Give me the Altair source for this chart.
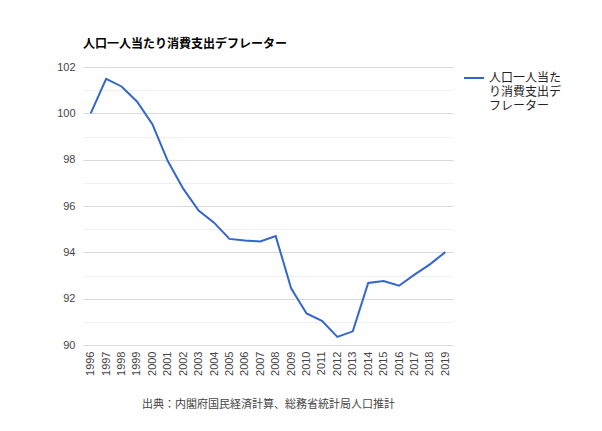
import altair as alt
import pandas as pd

years = [str(y) for y in range(1996, 2020)]
values = [100.0, 101.49, 101.16, 100.51, 99.53, 97.94, 96.75, 95.80, 95.28, 94.58,
          94.51, 94.47, 94.70, 92.45, 91.36, 91.04, 90.35, 90.59, 92.68, 92.76,
          92.56, 93.04, 93.48, 94.01]
series_name = "人口一人当たり消費支出デフレーター"
title_text = "人口一人当たり消費支出デフレーター"
source_text = "出典：内閣府国民経済計算、総務省統計局人口推計"
y_ticks = list(range(90, 103))

df = pd.DataFrame({"year": years, "value": values, "series": series_name})

FONT = "Arial, 'Liberation Sans', 'Noto Sans CJK JP', sans-serif"

chart = alt.Chart(df).mark_line(strokeWidth=2, color="#3366CC").encode(
    x=alt.X("year:O", scale=alt.Scale(type="point", padding=0.5),
            axis=alt.Axis(title=source_text, labelAngle=-90, labelFontSize=11,
                          labelColor="#444444", titleFontSize=11, titleFontWeight="normal",
                          titleColor="#444444", titlePadding=23, domain=False, ticks=False,
                          grid=False, labelPadding=6)),
    y=alt.Y("value:Q", scale=alt.Scale(domain=[90, 102], nice=False, zero=False),
            axis=alt.Axis(title=None, values=y_ticks,
                          labelExpr="datum.value % 2 == 0 ? datum.label : ''",
                          gridColor=alt.condition("datum.value % 2 == 0", alt.value("#d9d9d9"), alt.value("#f0f0f0")),
                          labelFontSize=11, labelColor="#444444", domain=False, ticks=False,
                          labelPadding=8)),
    color=alt.Color("series:N", scale=alt.Scale(range=["#3366CC"]),
                    legend=alt.Legend(title=None, orient="none", legendX=380, legendY=0,
                                      symbolType="stroke", symbolSize=400, symbolStrokeWidth=2,
                                      labelFontSize=12, labelColor="#222222", labelLimit=200,
                                      labelExpr="['人口一人当た','り消費支出デ','フレーター']")),
).properties(
    width=370, height=278,
    title=alt.TitleParams(title_text, anchor="start", frame="group", fontSize=12, fontWeight="bold",
                          color="#000000", offset=10, font=FONT),
    autosize=alt.AutoSizeParams(type="none"),
    padding={"left": 83, "top": 67, "right": 149, "bottom": 86},
).configure(font=FONT).configure_view(stroke=None)

chart.save("out.html", embed_options={"renderer": "svg", "actions": False})
